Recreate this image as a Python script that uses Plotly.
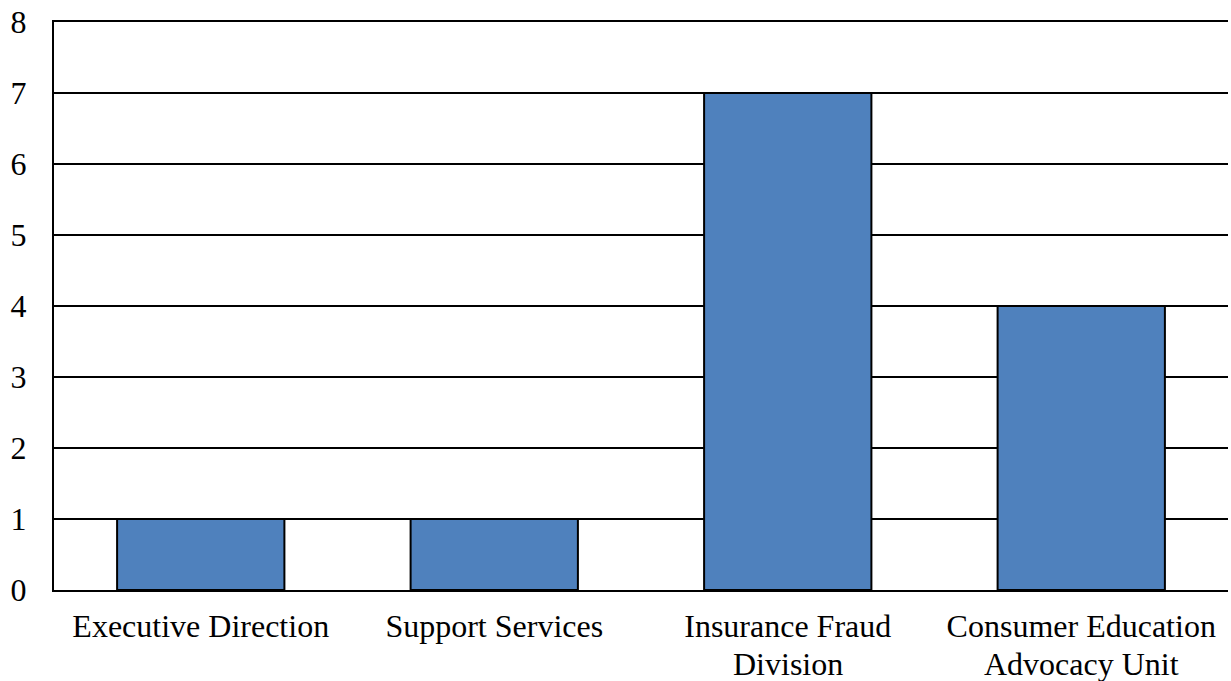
import plotly.graph_objects as go

# Headcount by unit
categories = ["Executive Direction", "Support Services",
              "Insurance Fraud<br>Division", "Consumer Education<br>Advocacy Unit"]
values = [1, 1, 7, 4]
y_ticks = [0, 1, 2, 3, 4, 5, 6, 7, 8]

font = dict(family="Liberation Serif, Times New Roman, serif", size=32, color="black")

# First line of each category label goes on the axis; any wrapped
# second line is placed beneath it with tighter leading.
first_lines = [c.split("<br>")[0] for c in categories]
second_lines = [c.split("<br>")[1] if "<br>" in c else "" for c in categories]

fig = go.Figure(
    go.Bar(
        x=categories,
        y=values,
        marker=dict(color="#4F81BD", line=dict(color="black", width=2)),
        width=0.57,
    )
)

for cat, line in zip(categories, second_lines):
    if line:
        fig.add_annotation(
            x=cat, xref="x", y=-0.130, yref="paper",
            text=line, showarrow=False, font=font,
            xanchor="center", yanchor="middle",
        )

fig.update_layout(
    width=1231,
    height=681,
    margin=dict(l=54, r=3, t=22, b=91),
    plot_bgcolor="white",
    paper_bgcolor="white",
    font=font,
    showlegend=False,
)
fig.update_xaxes(
    tickvals=categories, ticktext=first_lines,
    showline=True, mirror=True, linecolor="black", linewidth=2,
    showgrid=False, ticks="", tickfont=font, ticklabelstandoff=7,
    automargin=False,
)
fig.update_yaxes(
    range=[0, 8], tickvals=y_ticks,
    showline=True, linecolor="black", linewidth=2,
    showgrid=True, gridcolor="black", gridwidth=1.5,
    zeroline=False, ticks="", ticklabelstandoff=19, tickfont=font,
    automargin=False,
)

fig.write_html("out.html")
